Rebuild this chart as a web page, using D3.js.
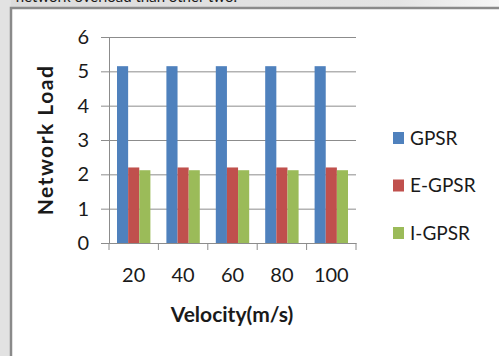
<!DOCTYPE html>
<html>
<head>
<meta charset="utf-8">
<script src="https://cdn.jsdelivr.net/npm/d3@7"></script>
<style>
  html, body { margin: 0; padding: 0; background: #fff; }
  svg text { font-family: Lato, "Open Sans", sans-serif; fill: #1a1a1a; }
</style>
</head>
<body>
<div id="chart"></div>
<script>
const velocities = ["20", "40", "60", "80", "100"]
const seriesNames = ["GPSR", "E-GPSR", "I-GPSR"]
const gpsr = [5.15, 5.15, 5.15, 5.15, 5.15]
const egpsr = [2.2, 2.2, 2.2, 2.2, 2.2]
const igpsr = [2.12, 2.12, 2.12, 2.12, 2.12]
const yTicks = [0, 1, 2, 3, 4, 5, 6]

const colors = ["#4F81BD", "#C0504D", "#9BBB59"]
const seriesValues = [gpsr, egpsr, igpsr]

const W = 499, H = 356
const plot = { left: 109, right: 356, top: 37, bottom: 243 }

const svg = d3.select("#chart").append("svg")
  .attr("width", W).attr("height", H)

// screenshot frame ------------------------
const grad = svg.append("defs").append("linearGradient")
  .attr("id", "band").attr("x1", 0).attr("x2", 1)
grad.append("stop").attr("offset", 0).attr("stop-color", "#dcdcdc")
grad.append("stop").attr("offset", 0.8).attr("stop-color", "#e4e4e4")
grad.append("stop").attr("offset", 1).attr("stop-color", "#f6f6f6")
svg.append("rect").attr("x", 0).attr("y", 0).attr("width", W).attr("height", 8).attr("fill", "url(#band)")
svg.append("rect").attr("x", 0).attr("y", 0).attr("width", 11).attr("height", H).attr("fill", "#e2e2e2")
svg.append("text").attr("x", 237).attr("y", 2).attr("text-anchor", "end")
  .style("font-size", "15px").text("network overload than other two.")
svg.append("path").attr("d", `M11,${H} V8 H${W}`)
  .attr("fill", "none").attr("stroke", "#8a8a8a").attr("stroke-width", 2.5)

// scales ----------------------
const y = d3.scaleLinear().domain([0, 6]).range([plot.bottom, plot.top])
const x0 = d3.scaleBand().domain(velocities).range([plot.left, plot.right]).padding(0)
const x1 = d3.scaleBand().domain(seriesNames)
  .range([8, x0.bandwidth() - 8]).padding(0)

// grid
svg.append("g")
  .attr("transform", `translate(${plot.left},0)`)
  .call(d3.axisLeft(y).tickValues(yTicks).tickSize(-(plot.right - plot.left)).tickFormat(""))
  .call(g => g.select(".domain").remove())
  .selectAll("line").attr("stroke", "#8c8c8c")

// bars ------------------------
const groups = svg.append("g").selectAll("g").data(velocities).join("g")
  .attr("transform", d => `translate(${x0(d)},0)`)
groups.selectAll("rect")
  .data((d, i) => seriesNames.map((s, k) => ({ s, v: seriesValues[k][i], c: colors[k] })))
  .join("rect")
  .attr("x", d => x1(d.s))
  .attr("y", d => y(d.v))
  .attr("width", x1.bandwidth())
  .attr("height", d => y(0) - y(d.v))
  .attr("fill", d => d.c)

// axes ------------------------
const yAxis = svg.append("g").attr("transform", `translate(${plot.left},0)`)
  .call(d3.axisLeft(y).tickValues(yTicks).tickFormat(d3.format("d")).tickSize(8).tickPadding(12))
yAxis.selectAll("line, path").attr("stroke", "#8c8c8c")
yAxis.selectAll("text").style("font-size", "20px").attr("fill", "#1a1a1a")

const xAxis = svg.append("g").attr("transform", `translate(0,${plot.bottom})`)
  .call(d3.axisBottom(x0).tickSize(0).tickPadding(25))
xAxis.select(".domain").attr("stroke", "#8c8c8c")
xAxis.selectAll("text").style("font-size", "20px").attr("fill", "#1a1a1a")
svg.append("g").selectAll("line")
  .data(velocities.concat(["end"]))
  .join("line")
  .attr("x1", (d, i) => plot.left + i * x0.bandwidth())
  .attr("x2", (d, i) => plot.left + i * x0.bandwidth())
  .attr("y1", plot.bottom).attr("y2", plot.bottom + 7)
  .attr("stroke", "#8c8c8c")

svg.append("text")
  .attr("x", 232).attr("y", 322)
  .attr("text-anchor", "middle")
  .style("font-size", "21px").style("font-weight", "bold")
  .text("Velocity(m/s)")

svg.append("text")
  .attr("transform", "translate(53,140) rotate(-90)")
  .attr("text-anchor", "middle")
  .style("font-size", "21px").style("font-weight", "bold")
  .style("letter-spacing", "1.5px")
  .text("Network  Load")

// legend ------------------------
const legend = svg.append("g").selectAll("g").data(seriesNames).join("g")
  .attr("transform", (d, i) => `translate(393,${138 + i * 47.5})`)
legend.append("rect").attr("x", 0).attr("y", -6).attr("width", 11).attr("height", 12)
  .attr("fill", (d, i) => colors[i])
legend.append("text").attr("x", 17).attr("dy", "0.36em")
  .style("font-size", "19px").text(d => d)
</script>
</body>
</html>
